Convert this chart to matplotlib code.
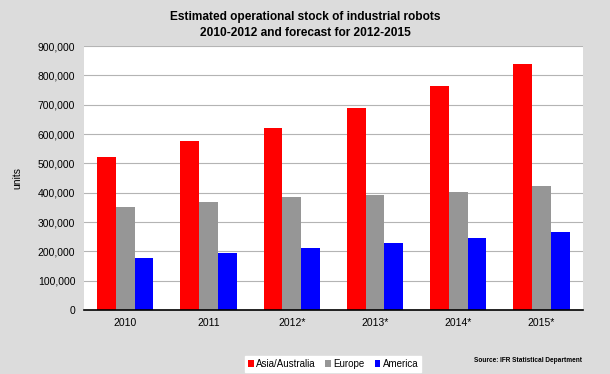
import matplotlib.pyplot as plt
import numpy as np

plt.rcParams['font.family'] = ['Liberation Sans', 'DejaVu Sans']

# Data
years = ['2010', '2011', '2012*', '2013*', '2014*', '2015*']
asia = [520000, 576000, 620000, 688000, 764000, 840000]
europe = [351000, 368000, 384000, 391000, 404000, 422000]
america = [179000, 193000, 210000, 227000, 245000, 266000]
series = ['Asia/Australia', 'Europe', 'America']
colors = ['#ff0000', '#969696', '#0000ff']

fig = plt.figure(figsize=(6.1, 3.74), dpi=100, facecolor='#dcdcdc')
ax = fig.add_axes([0.137, 0.171, 0.819, 0.706])
ax.set_facecolor('white')

x = np.arange(len(years))
w = 0.225
for i, (vals, name, c) in enumerate(zip([asia, europe, america], series, colors)):
    ax.bar(x + (i - 1) * w, vals, w, color=c, label=name, zorder=3)

ax.set_xlim(-0.5, len(years) - 0.5)
ax.set_ylim(0, 900000)
ax.set_yticks(range(0, 900001, 100000))
ax.set_yticklabels([f'{v:,}' for v in range(0, 900001, 100000)], fontsize=7.5)
ax.set_xticks(x)
ax.set_xticklabels(years, fontsize=7.5)
ax.tick_params(length=0, pad=6)
ax.grid(axis='y', color='#b4b4b4', linewidth=0.8, zorder=0)
for s in ['top', 'right', 'left']:
    ax.spines[s].set_visible(False)
ax.spines['bottom'].set_color('black')
ax.spines['bottom'].set_linewidth(1.2)
ax.spines['bottom'].set_zorder(4)

ax.set_ylabel('units', fontsize=7.5, va='center')
ax.yaxis.set_label_coords(-0.133, 0.5)

fig.text(0.5, 0.933, 'Estimated operational stock of industrial robots\n2010-2012 and forecast for 2012-2015',
         ha='center', va='center', fontsize=8.6, fontweight='bold', linespacing=1.35)

leg = fig.legend(loc='center', bbox_to_anchor=(0.546, 0.027), ncol=3, fontsize=7,
                 frameon=True, fancybox=False, edgecolor='white', framealpha=1,
                 handlelength=0.6, handleheight=0.6, handletextpad=0.25, columnspacing=1.0,
                 borderpad=0.3)

fig.text(0.866, 0.035, 'Source: IFR Statistical Department', ha='center', va='center',
         fontsize=4.7, fontweight='bold')

plt.savefig('out.png', dpi=100, facecolor=fig.get_facecolor())
